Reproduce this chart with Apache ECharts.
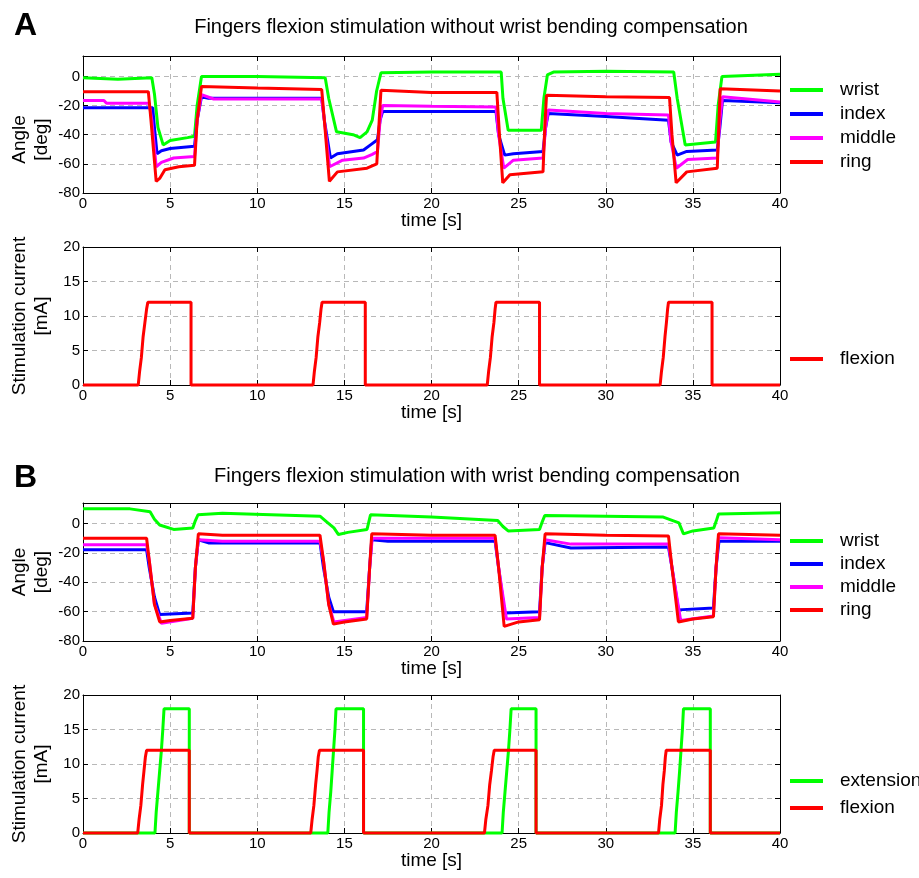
<!DOCTYPE html>
<html>
<head>
<meta charset="utf-8">
<script src="https://cdn.jsdelivr.net/npm/echarts@6/dist/echarts.min.js"></script>
<style>
  html, body { margin: 0; padding: 0; background: #fff; }
  #chart { width: 919px; height: 878px; }
</style>
</head>
<body>
<div id="chart"></div>
<script>
// values: [time s, value]
const timeTicks = [0, 5, 10, 15, 20, 25, 30, 35, 40];
const angleTicks = [-80, -60, -40, -20, 0];
const angleTop = 14;
const currentTicks = [0, 5, 10, 15, 20];

// A: without wrist compensation, angles [deg]
const wristA = [[0,-1],[2,-2],[3.95,-1],[4.1,-12],[4.3,-35],[4.6,-47],[5.0,-44],[6.0,-42],[6.4,-41],[6.55,-20],[6.8,0],[10,0],[13.9,-1],[14.1,-15],[14.55,-38],[15.5,-40],[15.9,-42],[16.3,-38],[16.6,-30],[16.85,-10],[17.1,2.5],[20,3],[24,3],[24.1,-15],[24.4,-37],[26.3,-37],[26.45,-15],[26.65,1],[27,3],[30,3.5],[33.9,3],[34.1,-15],[34.56,-47],[36.3,-45],[36.45,-20],[36.67,0],[40,1.5]];
const indexA = [[0,-21.5],[4.0,-21.5],[4.1,-35],[4.25,-53],[4.5,-51],[5.0,-49.5],[6.4,-48],[6.55,-30],[6.8,-14],[7.2,-15],[13.7,-15],[13.85,-30],[14.2,-56],[14.6,-53],[16.1,-50.5],[16.5,-47],[16.9,-43.5],[17.05,-30],[17.2,-24],[20,-24],[23.7,-24],[23.85,-40],[24.2,-54],[24.7,-53],[26.4,-51.5],[26.55,-35],[26.7,-25.5],[30,-27.5],[33.6,-30],[33.75,-45],[34.1,-54],[34.65,-51.5],[36.4,-50.5],[36.55,-35],[36.7,-16.5],[40,-18]];
const middleA = [[0,-16.5],[1.2,-16.5],[1.35,-18.5],[3.8,-18.5],[3.95,-30],[4.2,-62],[4.5,-59],[5.2,-56],[6.4,-55],[6.55,-30],[6.8,-12.5],[7.5,-15.5],[13.7,-15.5],[13.85,-30],[14.15,-62],[14.9,-57.5],[16.1,-56],[16.6,-53.5],[16.9,-51.5],[17.05,-30],[17.2,-20],[20,-20.5],[23.7,-21],[23.85,-40],[24.15,-63],[24.7,-57.5],[26.4,-56],[26.55,-35],[26.7,-23],[30,-25.5],[33.6,-26.5],[33.75,-45],[34.05,-63],[34.7,-57],[36.4,-56],[36.55,-30],[36.7,-14],[40,-17.5]];
const ringA = [[0,-10.5],[3.75,-10.5],[3.9,-30],[4.2,-72],[4.4,-70],[4.7,-64],[5.5,-62],[6.4,-61],[6.55,-30],[6.8,-7],[10,-8],[13.7,-9],[13.85,-30],[14.14,-72],[14.6,-65.5],[16.3,-63],[16.86,-60],[17,-30],[17.1,-9.5],[20,-11],[23.75,-11],[23.9,-40],[24.09,-73],[24.5,-67.5],[26.4,-65.5],[26.5,-35],[26.6,-13],[30,-14],[33.66,-14.5],[33.8,-40],[34.04,-73],[34.65,-65.5],[36.4,-63],[36.5,-30],[36.57,-8.5],[40,-10]];
// A: stimulation current [mA]
const flexionA = [[0,0],[3.17,0],[3.25,2],[3.35,4],[3.45,7],[3.55,9],[3.65,11],[3.72,12],[6.2,12],[6.2,0],
  [13.2,0],[13.28,2],[13.38,4],[13.48,7],[13.58,9],[13.66,11],[13.72,12],[16.2,12],[16.2,0],
  [23.2,0],[23.28,2],[23.38,4],[23.48,7],[23.58,9],[23.65,11],[23.7,12],[26.2,12],[26.2,0],
  [33.12,0],[33.2,2],[33.3,4],[33.4,7],[33.48,9],[33.55,11],[33.6,12],[36.1,12],[36.1,0],[40,0]];

// B: with wrist compensation, angles [deg]
const wristB = [[0,10],[2.7,10],[3.85,8],[4.1,3],[4.4,-1],[5.2,-4],[6.3,-3],[6.45,2],[6.6,6],[8,7],[13.6,5],[14.0,1],[14.4,-3],[14.66,-7.5],[15.2,-6],[16.3,-4],[16.4,1],[16.5,6],[20,4.5],[23.8,2],[24.1,-2],[24.4,-5],[26.2,-4],[26.35,1],[26.5,5.5],[30,5],[33.3,4.4],[34.2,0.5],[34.46,-7],[35,-5],[36.2,-3],[36.35,2],[36.47,6.5],[40,7.3]];
const indexB = [[0,-17.8],[3.65,-17.8],[3.8,-30],[4.1,-50],[4.4,-62],[6.3,-61],[6.45,-30],[6.62,-11],[7.2,-13.2],[13.6,-13],[13.8,-30],[14.1,-50],[14.37,-60],[16.28,-60],[16.45,-30],[16.57,-11],[17.5,-12],[23.65,-12],[23.85,-30],[24.2,-61],[26.2,-60],[26.35,-30],[26.52,-13],[28,-16.6],[33.6,-16],[33.8,-30],[34.17,-58.8],[36.18,-57.6],[36.33,-30],[36.5,-12],[40,-12]];
const middleB = [[0,-14.5],[3.65,-14.5],[3.8,-25],[4.1,-55],[4.5,-68],[5.5,-66],[6.3,-64.5],[6.45,-30],[6.62,-11],[8,-12],[13.6,-12],[13.8,-25],[14.1,-55],[14.4,-67],[16.28,-64],[16.45,-30],[16.6,-10],[20,-10],[23.65,-10],[23.85,-30],[24.3,-65],[26.2,-64],[26.35,-30],[26.52,-11],[28,-14],[33.6,-14],[33.8,-30],[34.3,-66],[36.18,-63],[36.33,-30],[36.47,-9.7],[40,-11]];
const ringB = [[0,-10],[3.65,-10],[3.8,-25],[4.1,-55],[4.4,-67],[5.0,-66],[6.3,-64.5],[6.45,-30],[6.62,-7],[8,-8],[13.6,-8],[13.8,-25],[14.1,-55],[14.37,-68.5],[15,-67],[16.28,-65],[16.45,-30],[16.57,-7],[20,-8],[23.65,-8],[23.85,-30],[24.17,-70],[25,-67],[26.2,-65.5],[26.35,-30],[26.52,-7],[30,-8],[33.6,-8.5],[33.8,-30],[34.17,-67],[35,-65],[36.18,-63.5],[36.33,-30],[36.47,-7],[40,-8]];
// B: stimulation current [mA]
const extensionB = [[0,0],[4.13,0],[4.2,3],[4.3,6],[4.4,9],[4.5,12],[4.58,15],[4.65,18],[6.1,18],[6.1,0],
  [14.05,0],[14.12,3],[14.22,6],[14.3,9],[14.38,12],[14.46,15],[14.52,18],[16.1,18],[16.1,0],
  [24.05,0],[24.12,3],[24.22,6],[24.32,9],[24.42,12],[24.5,15],[24.57,18],[26.0,18],[26.0,0],
  [33.98,0],[34.05,3],[34.15,6],[34.24,9],[34.32,12],[34.4,15],[34.46,18],[36.0,18],[36.0,0],[40,0]];
const flexionB = [[0,0],[3.14,0],[3.22,2],[3.32,4],[3.42,7],[3.5,9],[3.58,11],[3.65,12],[6.1,12],[6.1,0],
  [13.07,0],[13.15,2],[13.25,4],[13.35,7],[13.43,9],[13.5,11],[13.57,12],[16.1,12],[16.1,0],
  [23.04,0],[23.12,2],[23.24,4],[23.34,7],[23.44,9],[23.53,11],[23.6,12],[26.0,12],[26.0,0],
  [33.03,0],[33.1,2],[33.2,4],[33.28,7],[33.36,9],[33.42,11],[33.47,12],[36.0,12],[36.0,0],[40,0]];

const GREEN = '#00ff00', BLUE = '#0000ff', MAGENTA = '#ff00ff', RED = '#ff0000';
const FONT = '"Liberation Sans", Arial, sans-serif';

const grids = [
  { left: 83, width: 697, top: 56, height: 137, outerBoundsMode: 'none' },
  { left: 83, width: 697, top: 247, height: 138, outerBoundsMode: 'none' },
  { left: 83, width: 697, top: 503, height: 138, outerBoundsMode: 'none' },
  { left: 83, width: 697, top: 695, height: 138, outerBoundsMode: 'none' }
];

const dash = { show: true, lineStyle: { color: '#b8b8b8', type: [5, 4], width: 1 } };
const black = { show: true, onZero: false, lineStyle: { color: '#000', width: 1 } };
const tick = { show: true, inside: true, length: 5, lineStyle: { color: '#000' } };

const xAxes = [], yAxes = [];
grids.forEach((g, i) => {
  xAxes.push({
    gridIndex: i, type: 'value',
    min: timeTicks[0], max: timeTicks[timeTicks.length - 1], interval: timeTicks[1] - timeTicks[0],
    axisLine: black, axisTick: tick, splitLine: dash,
    axisLabel: { color: '#000', fontSize: 15, margin: 3, fontFamily: FONT },
    name: 'time [s]', nameLocation: 'middle', nameGap: 18, nameMoveOverlap: false,
    nameTextStyle: { color: '#000', fontSize: 19, fontFamily: FONT }
  });
});
grids.forEach((g, i) => {
  xAxes.push({
    gridIndex: i, type: 'value', position: 'top',
    min: timeTicks[0], max: timeTicks[timeTicks.length - 1], interval: timeTicks[1] - timeTicks[0],
    axisLine: black, axisTick: tick, axisLabel: { show: false }, splitLine: { show: false }
  });
});
grids.forEach((g, i) => {
  const angle = i % 2 === 0;
  const ticks = angle ? angleTicks : currentTicks;
  const nm = angle ? 'Angle\n[deg]' : 'Stimulation current\n[mA]';
  yAxes.push({
    gridIndex: i, type: 'value',
    min: ticks[0], max: angle ? angleTop : ticks[ticks.length - 1], interval: ticks[1] - ticks[0],
    axisLine: black, axisTick: tick, splitLine: dash,
    axisLabel: {
      color: '#000', fontSize: 15, margin: 3, fontFamily: FONT,
      formatter: v => (ticks.indexOf(v) >= 0 ? String(v) : '')
    },
    name: nm, nameLocation: 'middle', nameRotate: 90, nameGap: 30, nameMoveOverlap: false,
    nameTextStyle: {
      color: '#000', fontSize: 19, lineHeight: 22, fontFamily: FONT,
      padding: i === 0 ? [0, 30, 0, 0] : 0
    }
  });
});
grids.forEach((g, i) => {
  const angle = i % 2 === 0;
  const ticks = angle ? angleTicks : currentTicks;
  yAxes.push({
    gridIndex: i, type: 'value', position: 'right',
    min: ticks[0], max: angle ? angleTop : ticks[ticks.length - 1], interval: ticks[1] - ticks[0],
    axisLine: black, axisTick: tick, axisLabel: { show: false }, splitLine: { show: false }
  });
});

function line(name, data, color, gi) {
  return {
    name, type: 'line', data, xAxisIndex: gi, yAxisIndex: gi,
    color, symbol: 'none', animation: false, clip: gi % 2 === 0,
    lineStyle: { color, width: 3 }, itemStyle: { color }
  };
}

const series = [
  line('wrist', wristA, GREEN, 0),
  line('index', indexA, BLUE, 0),
  line('middle', middleA, MAGENTA, 0),
  line('ring', ringA, RED, 0),
  line('flexion', flexionA, RED, 1),
  line('wrist', wristB, GREEN, 2),
  line('index', indexB, BLUE, 2),
  line('middle', middleB, MAGENTA, 2),
  line('ring', ringB, RED, 2),
  line('extension', extensionB, GREEN, 3),
  line('flexion', flexionB, RED, 3)
];

function legend(names, top, gap) {
  return {
    data: names, left: 790, top, orient: 'vertical', padding: 0,
    icon: 'rect', itemWidth: 33, itemHeight: 4, itemGap: gap,
    selectedMode: false,
    textStyle: { color: '#000', fontSize: 19, lineHeight: 20, fontFamily: FONT, padding: [0, 0, 0, 12] }
  };
}

const titleStyle = { color: '#000', fontSize: 20, fontWeight: 'normal', fontFamily: FONT };
const letterStyle = { color: '#000', fontSize: 32, fontWeight: 'bold', fontFamily: FONT };

const chart = echarts.init(document.getElementById('chart'));
chart.setOption({
  backgroundColor: '#fff',
  animation: false,
  title: [
    { text: 'A', left: 14, top: 10, padding: 0, textStyle: letterStyle },
    { text: 'Fingers flexion stimulation without wrist bending compensation', left: 471, top: 17, textAlign: 'center', padding: 0, textStyle: titleStyle },
    { text: 'B', left: 14, top: 462, padding: 0, textStyle: letterStyle },
    { text: 'Fingers flexion stimulation with wrist bending compensation', left: 477, top: 466, textAlign: 'center', padding: 0, textStyle: titleStyle }
  ],
  grid: grids,
  xAxis: xAxes,
  yAxis: yAxes,
  legend: [
    legend(['wrist', 'index', 'middle', 'ring'], 80, 4),
    legend(['flexion'], 349, 4),
    legend(['wrist', 'index', 'middle', 'ring'], 531, 3),
    legend(['extension', 'flexion'], 771, 7)
  ],
  series
});
</script>
</body>
</html>
